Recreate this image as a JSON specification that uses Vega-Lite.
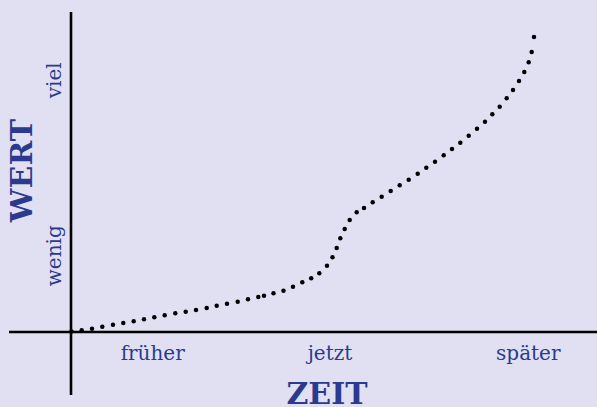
{
  "$schema": "https://vega.github.io/schema/vega-lite/v6.json",
  "width": 597,
  "height": 407,
  "autosize": {"type": "none"},
  "padding": 0,
  "background": "#e0e0f2",
  "config": {"view": {"stroke": null}},
  "datasets": {
    "dots": [
      {"x": 0.5, "y": 0.5}, {"x": 10.7, "y": 1.7}, {"x": 21, "y": 3.3}, {"x": 31.3, "y": 5.3},
      {"x": 42, "y": 7.3}, {"x": 52.3, "y": 9}, {"x": 62.7, "y": 10.7}, {"x": 73, "y": 12.7},
      {"x": 83.3, "y": 14.7}, {"x": 93.7, "y": 16.7}, {"x": 104.3, "y": 18.7}, {"x": 114.7, "y": 20.3},
      {"x": 125, "y": 22}, {"x": 135.7, "y": 24}, {"x": 145.7, "y": 26.3}, {"x": 156, "y": 28.3},
      {"x": 166.7, "y": 30.3}, {"x": 177, "y": 32.7}, {"x": 187.3, "y": 35}, {"x": 193, "y": 36.3},
      {"x": 202.5, "y": 38.8}, {"x": 212.5, "y": 41.2}, {"x": 222, "y": 45.3}, {"x": 231.3, "y": 49.7},
      {"x": 240.2, "y": 53.7}, {"x": 248.3, "y": 58.7}, {"x": 256, "y": 66.2}, {"x": 261.5, "y": 74.7},
      {"x": 265.7, "y": 84}, {"x": 269.3, "y": 93.7}, {"x": 273.7, "y": 103}, {"x": 278.7, "y": 112},
      {"x": 285.7, "y": 119.7}, {"x": 293, "y": 124}, {"x": 301.7, "y": 129.7}, {"x": 310.7, "y": 135.3},
      {"x": 319.7, "y": 141}, {"x": 328.7, "y": 146.7}, {"x": 337.7, "y": 152.3}, {"x": 346.7, "y": 158.3},
      {"x": 355.3, "y": 164.3}, {"x": 364, "y": 170.3}, {"x": 372.7, "y": 176.7}, {"x": 381, "y": 183},
      {"x": 389.3, "y": 189.3}, {"x": 397.7, "y": 196.3}, {"x": 406, "y": 203.3}, {"x": 414, "y": 210.3},
      {"x": 421.3, "y": 217.7}, {"x": 428.7, "y": 225.3}, {"x": 435.7, "y": 233.7}, {"x": 442, "y": 242},
      {"x": 448, "y": 251}, {"x": 453.3, "y": 260}, {"x": 457.7, "y": 269.7}, {"x": 460.7, "y": 280},
      {"x": 463, "y": 295}
    ],
    "axes": [
      {"x": 0, "x2": 0, "y": -63, "y2": 320},
      {"x": -62, "x2": 526, "y": 0, "y2": 0}
    ],
    "xlabels": [
      {"x": 81.7, "y": -27.5, "label": "früher"},
      {"x": 259, "y": -27.7, "label": "jetzt"},
      {"x": 457.3, "y": -27.8, "label": "später"}
    ],
    "ylabels": [
      {"x": -10.3, "y": 251.7, "label": "viel"},
      {"x": -10.3, "y": 76.2, "label": "wenig"}
    ],
    "xtitle": [{"x": 256, "y": -72, "label": "ZEIT"}],
    "ytitle": [{"x": -39.3, "y": 161.5, "label": "WERT"}]
  },
  "layer": [
    {
      "data": {"name": "axes"},
      "mark": {"type": "rule", "color": "#000000", "strokeWidth": 2.6},
      "encoding": {
        "x": {"field": "x", "type": "quantitative", "scale": {"domain": [-71, 526], "nice": false, "zero": false}, "axis": null},
        "x2": {"field": "x2"},
        "y": {"field": "y", "type": "quantitative", "scale": {"domain": [-75, 332], "nice": false, "zero": false}, "axis": null},
        "y2": {"field": "y2"}
      }
    },
    {
      "data": {"name": "dots"},
      "mark": {"type": "point", "filled": true, "color": "#000000", "opacity": 1, "size": 20},
      "encoding": {
        "x": {"field": "x", "type": "quantitative"},
        "y": {"field": "y", "type": "quantitative"}
      }
    },
    {
      "data": {"name": "xlabels"},
      "mark": {"type": "text", "font": "DejaVu Serif", "fontSize": 20, "color": "#2b3a8e", "align": "center", "baseline": "alphabetic"},
      "encoding": {
        "x": {"field": "x", "type": "quantitative"},
        "y": {"field": "y", "type": "quantitative"},
        "text": {"field": "label"}
      }
    },
    {
      "data": {"name": "ylabels"},
      "mark": {"type": "text", "font": "DejaVu Serif", "fontSize": 20, "color": "#2b3a8e", "align": "center", "baseline": "alphabetic", "angle": 270},
      "encoding": {
        "x": {"field": "x", "type": "quantitative"},
        "y": {"field": "y", "type": "quantitative"},
        "text": {"field": "label"}
      }
    },
    {
      "data": {"name": "xtitle"},
      "mark": {"type": "text", "font": "DejaVu Serif", "fontSize": 30, "fontWeight": "bold", "color": "#2b3a8e", "align": "center", "baseline": "alphabetic"},
      "encoding": {
        "x": {"field": "x", "type": "quantitative"},
        "y": {"field": "y", "type": "quantitative"},
        "text": {"field": "label"}
      }
    },
    {
      "data": {"name": "ytitle"},
      "mark": {"type": "text", "font": "DejaVu Serif", "fontSize": 30, "fontWeight": "bold", "color": "#2b3a8e", "align": "center", "baseline": "alphabetic", "angle": 270},
      "encoding": {
        "x": {"field": "x", "type": "quantitative"},
        "y": {"field": "y", "type": "quantitative"},
        "text": {"field": "label"}
      }
    }
  ]
}
